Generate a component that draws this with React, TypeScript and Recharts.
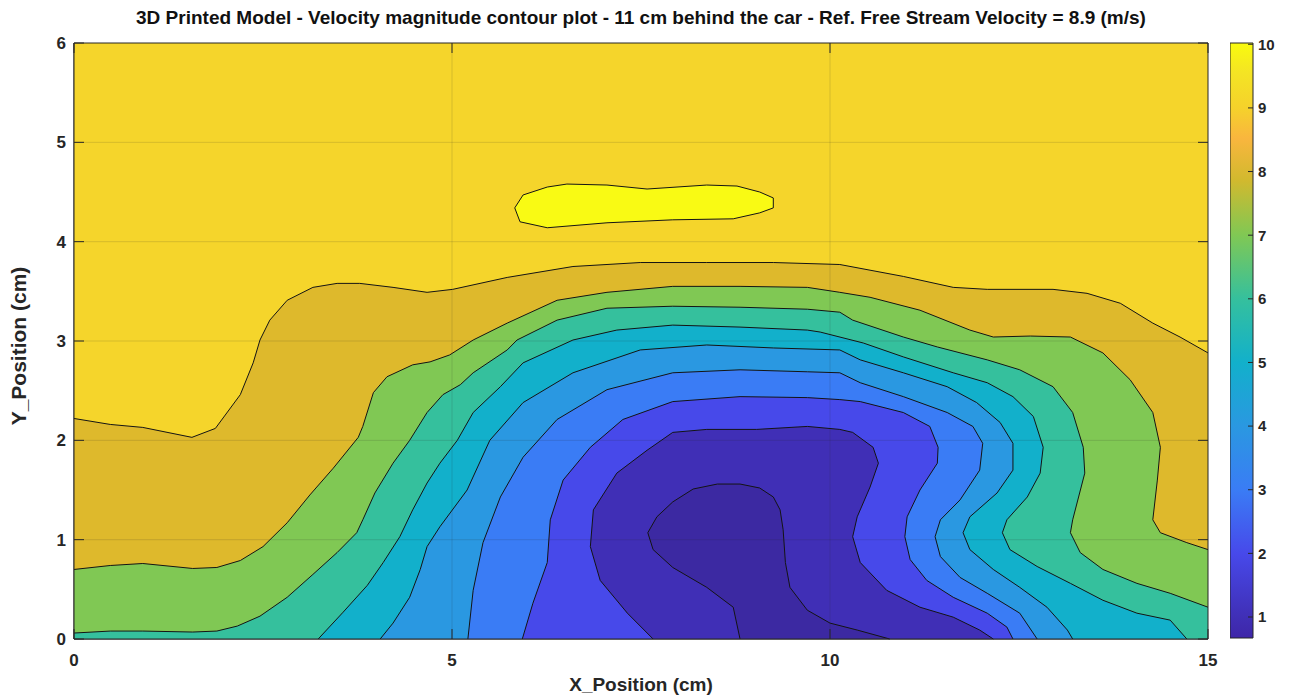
import React from "react";
import { ScatterChart, Scatter, XAxis, YAxis, ReferenceArea } from "recharts";

type Pt = [number, number];

const xTicks = [0, 5, 10, 15];
const yTicks = [0, 1, 2, 3, 4, 5, 6];
const gridX = [5, 10];
const gridY = [1, 2, 3, 4, 5];
const colorbarTicks = [1, 2, 3, 4, 5, 6, 7, 8, 9, 10];
const colorbarRange: [number, number] = [0.67, 10.02];

// contour lines in cm (highest level first)
const plotFrame: Pt[] = [[0, 0], [0, 6], [15, 6], [15, 0]];

const contour9: Pt[] = [
  [0, 2.22], [0.48, 2.16], [0.91, 2.13], [1.56, 2.03], [1.87, 2.12], [2.2, 2.46], [2.37, 2.78],
  [2.46, 3.01], [2.59, 3.21], [2.82, 3.41], [3.16, 3.54], [3.48, 3.58], [3.78, 3.58], [4.22, 3.54],
  [4.67, 3.49], [5.01, 3.52], [5.73, 3.64], [6.6, 3.75], [7.49, 3.79], [8.37, 3.79], [9.25, 3.79],
  [10.13, 3.77], [10.97, 3.65], [11.63, 3.54], [12.08, 3.52], [12.95, 3.52], [13.4, 3.48],
  [13.84, 3.38], [14.27, 3.18], [14.63, 3.04], [15, 2.88],
];

const contour8: Pt[] = [
  [0, 0.7], [0.48, 0.74], [0.91, 0.76], [1.57, 0.71], [1.89, 0.72], [2.2, 0.79], [2.5, 0.93],
  [2.82, 1.17], [3.12, 1.45], [3.43, 1.72], [3.76, 2.03], [3.82, 2.14], [3.96, 2.48], [4.14, 2.64],
  [4.48, 2.76], [4.71, 2.79], [4.97, 2.86], [5.28, 3.01], [5.73, 3.18], [6.39, 3.41], [7.05, 3.49],
  [7.92, 3.55], [8.81, 3.55], [9.7, 3.54], [10.13, 3.49], [10.53, 3.44], [11.19, 3.31],
  [11.85, 3.11], [12.16, 3.04], [12.65, 3.05], [13.18, 3.04], [13.61, 2.88], [13.97, 2.61],
  [14.27, 2.28], [14.37, 1.93], [14.33, 1.6], [14.27, 1.2], [14.37, 1.07], [14.72, 0.97], [15, 0.9],
];

const contour7: Pt[] = [
  [0, 0.06], [0.48, 0.08], [0.91, 0.08], [1.57, 0.07], [1.89, 0.08], [2.16, 0.13], [2.46, 0.23],
  [2.82, 0.42], [3.16, 0.65], [3.48, 0.87], [3.74, 1.07], [3.82, 1.2], [3.98, 1.47], [4.22, 1.77],
  [4.44, 2.0], [4.67, 2.28], [4.88, 2.46], [5.11, 2.56], [5.28, 2.68], [5.73, 2.91], [5.86, 3.01],
  [6.39, 3.21], [7.05, 3.33], [7.92, 3.35], [8.81, 3.34], [9.7, 3.32], [10.13, 3.29], [10.3, 3.21],
  [10.97, 3.04], [11.42, 2.94], [12.08, 2.81], [12.51, 2.71], [12.95, 2.54], [13.21, 2.28],
  [13.35, 1.93], [13.37, 1.67], [13.21, 1.2], [13.18, 1.07], [13.31, 0.87], [13.61, 0.7],
  [14.06, 0.56], [14.5, 0.46], [15, 0.32],
];

const contour6: Pt[] = [
  [3.23, 0], [3.56, 0.27], [3.88, 0.54], [4.09, 0.77], [4.31, 1.03], [4.48, 1.3], [4.67, 1.57],
  [4.84, 1.77], [5.07, 2.0], [5.28, 2.28], [5.64, 2.54], [5.94, 2.78], [6.6, 3.01], [7.18, 3.11],
  [7.92, 3.16], [8.81, 3.14], [9.7, 3.11], [9.87, 3.09], [10.44, 2.98], [10.97, 2.84],
  [11.63, 2.68], [12.08, 2.58], [12.42, 2.44], [12.69, 2.24], [12.82, 1.93], [12.78, 1.67],
  [12.61, 1.43], [12.34, 1.2], [12.28, 1.07], [12.38, 0.9], [12.74, 0.73], [13.18, 0.56],
  [13.61, 0.39], [14.06, 0.26], [14.5, 0.19], [14.72, 0],
];

const contour5: Pt[] = [
  [4.05, 0], [4.22, 0.16], [4.44, 0.42], [4.58, 0.7], [4.67, 0.93], [4.84, 1.13], [5.2, 1.5],
  [5.5, 2.0], [5.94, 2.38], [6.6, 2.68], [7.49, 2.91], [8.37, 2.96], [9.25, 2.93], [10.13, 2.91],
  [10.4, 2.81], [10.97, 2.68], [11.55, 2.54], [11.94, 2.38], [12.25, 2.18], [12.42, 1.97],
  [12.42, 1.7], [12.21, 1.47], [11.85, 1.23], [11.76, 1.07], [11.85, 0.9], [12.16, 0.7],
  [12.51, 0.52], [12.87, 0.32], [13.14, 0.09], [13.21, 0],
];

const contour4: Pt[] = [
  [5.21, 0], [5.28, 0.49], [5.41, 0.97], [5.64, 1.43], [5.94, 1.83], [6.39, 2.21], [7.05, 2.51],
  [7.92, 2.68], [8.81, 2.71], [9.7, 2.69], [10.13, 2.68], [10.4, 2.58], [10.97, 2.44],
  [11.55, 2.28], [11.89, 2.14], [12.02, 1.97], [11.98, 1.7], [11.72, 1.4], [11.46, 1.2],
  [11.39, 1.03], [11.46, 0.83], [11.72, 0.62], [12.08, 0.46], [12.51, 0.26], [12.74, 0],
];

const contour3: Pt[] = [
  [5.93, 0], [6.07, 0.36], [6.26, 0.77], [6.3, 1.2], [6.47, 1.6], [6.83, 1.93], [7.26, 2.21],
  [7.92, 2.39], [8.81, 2.44], [9.7, 2.43], [10.13, 2.41], [10.4, 2.39], [10.97, 2.28],
  [11.32, 2.14], [11.43, 1.93], [11.42, 1.77], [11.19, 1.5], [11.02, 1.23], [10.99, 1.03],
  [11.06, 0.8], [11.28, 0.59], [11.63, 0.42], [12.08, 0.26], [12.34, 0.12], [12.42, 0],
];

const contour2: Pt[] = [
  [7.66, 0], [7.32, 0.26], [6.96, 0.59], [6.83, 0.93], [6.87, 1.3], [7.18, 1.67], [7.58, 1.9],
  [7.92, 2.08], [8.37, 2.11], [9.03, 2.11], [9.7, 2.14], [10.13, 2.11], [10.3, 2.08],
  [10.57, 1.93], [10.64, 1.77], [10.53, 1.53], [10.36, 1.23], [10.3, 1.03], [10.4, 0.77],
  [10.75, 0.49], [11.19, 0.32], [11.63, 0.22], [11.98, 0.09], [12.16, 0],
];

const contour1: Pt[] = [
  [8.81, 0], [8.72, 0.32], [8.37, 0.52], [7.92, 0.72], [7.66, 0.9], [7.59, 1.07], [7.71, 1.23],
  [7.92, 1.38], [8.19, 1.51], [8.51, 1.56], [8.81, 1.56], [9.07, 1.52], [9.25, 1.43], [9.34, 1.3],
  [9.38, 1.1], [9.41, 0.77], [9.47, 0.52], [9.7, 0.29], [10.0, 0.16], [10.36, 0.09], [10.79, 0],
];

const topBlob: Pt[] = [
  [5.83, 4.34], [5.9, 4.2], [6.26, 4.14], [7.05, 4.19], [7.92, 4.22], [8.72, 4.23], [9.07, 4.29],
  [9.25, 4.34], [9.25, 4.44], [9.07, 4.5], [8.77, 4.56], [8.37, 4.57], [7.58, 4.53], [7.05, 4.57],
  [6.52, 4.58], [6.26, 4.55], [5.94, 4.47],
];

// bottom corners that close the regions under the lines that run edge to edge
const rightLeftCorners: Pt[] = [[15, 0], [0, 0]];

const FONT = "'Liberation Sans', Arial, sans-serif";
const AXIS = "#262626";

type Layer = { name: string; line: Pt[]; closing: Pt[]; fill: string; stroke: boolean; ring?: boolean };

const layers: Layer[] = [
  { name: "frame", line: plotFrame, closing: [], fill: "#f5d52b", stroke: false },
  { name: "c9", line: contour9, closing: rightLeftCorners, fill: "#deb92c", stroke: true },
  { name: "c8", line: contour8, closing: rightLeftCorners, fill: "#80c854", stroke: true },
  { name: "c7", line: contour7, closing: rightLeftCorners, fill: "#35c09d", stroke: true },
  { name: "c6", line: contour6, closing: [], fill: "#12b0cb", stroke: true },
  { name: "c5", line: contour5, closing: [], fill: "#2a98e1", stroke: true },
  { name: "c4", line: contour4, closing: [], fill: "#3a7cf5", stroke: true },
  { name: "c3", line: contour3, closing: [], fill: "#4749ea", stroke: true },
  { name: "c2", line: contour2, closing: [], fill: "#402fb6", stroke: true },
  { name: "c1", line: contour1, closing: [], fill: "#3c29a2", stroke: true },
  { name: "blob", line: topBlob, closing: [], fill: "#f9fa14", stroke: true, ring: true },
];

type XY = { x: number; y: number };
const toD = (arr: XY[]) => arr.map((p, i) => `${i ? "L" : "M"}${p.x},${p.y}`).join("");

function regionRenderer(layer: Layer) {
  const nOpen = layer.line.length;
  return (props: any) => {
    const pts: XY[] = props.points || [];
    if (!pts.length) return <g />;
    const area = toD(pts) + "Z";
    const edge = toD(pts.slice(0, nOpen)) + (layer.ring ? "Z" : "");
    return (
      <g>
        <path d={area} fill={layer.fill} stroke="none" />
        {layer.stroke && <path d={edge} fill="none" stroke="#141414" strokeWidth={1} />}
      </g>
    );
  };
}

function strokeRenderer(stroke: string, opacity: number, closed: boolean) {
  return (props: any) => {
    const pts: XY[] = props.points || [];
    if (!pts.length) return <g />;
    return <path d={toD(pts) + (closed ? "Z" : "")} fill="none" stroke={stroke} strokeOpacity={opacity} strokeWidth={1} />;
  };
}

const tickMark = (dx: number, dy: number) => (props: any) =>
  <line x1={props.cx} y1={props.cy} x2={props.cx + dx} y2={props.cy + dy} stroke={AXIS} strokeWidth={1} />;

const noDot = () => <g />;

const tickStyle = { fontFamily: FONT, fontWeight: 700, fontSize: 17, fill: AXIS };

function ContourChart() {
  return (
    <ScatterChart width={1292} height={698} margin={{ top: 43, right: 84, bottom: 29, left: 24 }}>
      <XAxis
        type="number" dataKey="x" domain={[0, 15]} ticks={xTicks} interval={0}
        height={30} tickLine={false} tickSize={0} tickMargin={15}
        axisLine={{ stroke: AXIS }} tick={tickStyle}
      />
      <YAxis
        type="number" dataKey="y" domain={[0, 6]} ticks={yTicks} interval={0}
        width={50} tickLine={false} tickSize={0} tickMargin={8}
        axisLine={{ stroke: AXIS }} tick={tickStyle}
      />
      {layers.map((layer) => (
        <Scatter
          key={layer.name}
          name={layer.name}
          data={[...layer.line, ...layer.closing].map(([x, y]) => ({ x, y }))}
          isAnimationActive={false}
          shape={noDot}
          line={regionRenderer(layer)}
          lineType="joint"
          legendType="none"
        />
      ))}
      {gridX.map((v) => (
        <Scatter key={`gx${v}`} data={[{ x: v, y: 0 }, { x: v, y: 6 }]} isAnimationActive={false}
          shape={noDot} line={strokeRenderer(AXIS, 0.15, false)} legendType="none" />
      ))}
      {gridY.map((v) => (
        <Scatter key={`gy${v}`} data={[{ x: 0, y: v }, { x: 15, y: v }]} isAnimationActive={false}
          shape={noDot} line={strokeRenderer(AXIS, 0.15, false)} legendType="none" />
      ))}
      <Scatter data={plotFrame.map(([x, y]) => ({ x, y }))} isAnimationActive={false}
        shape={noDot} line={strokeRenderer(AXIS, 1, true)} legendType="none" />
      <Scatter data={yTicks.map((y) => ({ x: 0, y }))} isAnimationActive={false} shape={tickMark(10, 0)} legendType="none" />
      <Scatter data={yTicks.map((y) => ({ x: 15, y }))} isAnimationActive={false} shape={tickMark(-10, 0)} legendType="none" />
      <Scatter data={xTicks.map((x) => ({ x, y: 0 }))} isAnimationActive={false} shape={tickMark(0, -10)} legendType="none" />
      <Scatter data={xTicks.map((x) => ({ x, y: 6 }))} isAnimationActive={false} shape={tickMark(0, 10)} legendType="none" />
    </ScatterChart>
  );
}

function Colorbar() {
  return (
    <ScatterChart width={80} height={698} margin={{ top: 43, right: 0, bottom: 60, left: 0 }}>
      <XAxis type="number" dataKey="x" domain={[0, 1]} hide />
      <YAxis
        type="number" dataKey="y" orientation="right" domain={colorbarRange} ticks={colorbarTicks}
        allowDataOverflow width={57} tickLine={false} tickSize={0} tickMargin={5}
        axisLine={false} tick={{ ...tickStyle, fontSize: 15, textAnchor: "start" }}
      />
      <ReferenceArea
        x1={0} x2={1} y1={colorbarRange[0]} y2={colorbarRange[1]}
        fill="url(#parulaGrad)" fillOpacity={1} stroke={AXIS} strokeWidth={1}
      />
      <Scatter
        data={colorbarTicks.map((y) => ({ x: 1, y }))}
        isAnimationActive={false}
        shape={tickMark(-5, 0)}
        legendType="none"
      />
    </ScatterChart>
  );
}

export default function App() {
  return (
    <div style={{ position: "absolute", left: 0, top: 0, width: 1292, height: 698, background: "#fff", fontFamily: FONT }}>
      <svg width={0} height={0} style={{ position: "absolute" }}>
        <defs>
          <linearGradient id="parulaGrad" x1="0" y1="1" x2="0" y2="0">
            <stop offset="0" stopColor="#3e26a8" />
            <stop offset="0.035" stopColor="#402fb6" />
            <stop offset="0.142" stopColor="#4749ea" />
            <stop offset="0.249" stopColor="#3a7cf5" />
            <stop offset="0.356" stopColor="#2a98e1" />
            <stop offset="0.463" stopColor="#12b0cb" />
            <stop offset="0.57" stopColor="#35c09d" />
            <stop offset="0.677" stopColor="#80c854" />
            <stop offset="0.77" stopColor="#d2b92e" />
            <stop offset="0.84" stopColor="#f9b63e" />
            <stop offset="0.891" stopColor="#f5d22b" />
            <stop offset="0.95" stopColor="#f4e424" />
            <stop offset="1" stopColor="#f9fb0e" />
          </linearGradient>
        </defs>
      </svg>
      <div style={{ position: "absolute", left: 0, top: 0 }}>
        <ContourChart />
      </div>
      <div style={{ position: "absolute", left: 1230, top: 0 }}>
        <Colorbar />
      </div>
      <div style={{ position: "absolute", left: 24, width: 1234, top: 6, textAlign: "center", fontSize: 19, lineHeight: "24px", fontWeight: 700, color: "#111", whiteSpace: "nowrap" }}>
        3D Printed Model - Velocity magnitude contour plot - 11 cm behind the car - Ref. Free Stream Velocity = 8.9 (m/s)
      </div>
      <div style={{ position: "absolute", left: 74, width: 1134, top: 673, textAlign: "center", fontSize: 19, lineHeight: "24px", fontWeight: 700, color: AXIS }}>
        X_Position (cm)
      </div>
      <div style={{ position: "absolute", left: 19, top: 346, width: 0, height: 0 }}>
        <div style={{ position: "absolute", left: -120, top: -13, width: 240, textAlign: "center", fontSize: 21, lineHeight: "26px", fontWeight: 700, color: AXIS, transform: "rotate(-90deg)" }}>
          Y_Position (cm)
        </div>
      </div>
    </div>
  );
}
